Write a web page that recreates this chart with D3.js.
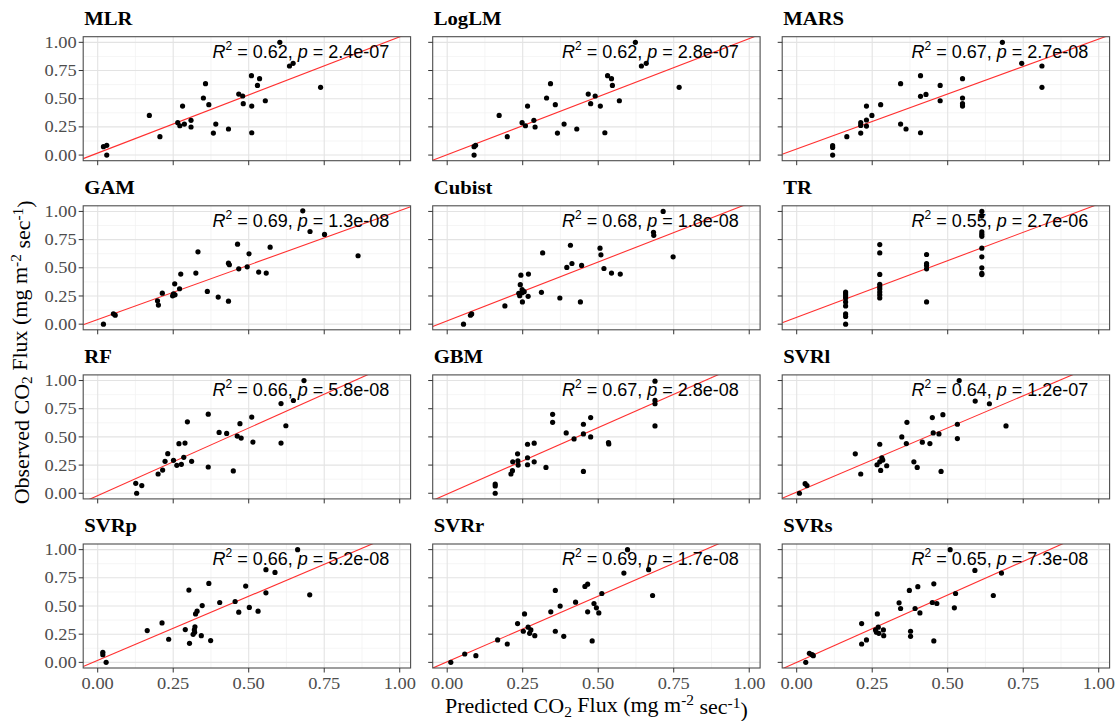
<!DOCTYPE html>
<html><head><meta charset="utf-8">
<script src="https://cdn.jsdelivr.net/npm/d3@7"></script>
<style>body{margin:0;background:#fff}</style>
</head><body><svg id="c" width="1115" height="721"></svg>
<script>
const models = ["MLR","LogLM","MARS","GAM","Cubist","TR","RF","GBM","SVRl","SVRp","SVRr","SVRs"];
const r2Labels = ["0.62","0.62","0.67","0.69","0.68","0.55","0.66","0.67","0.64","0.66","0.69","0.65"];
const pLabels = ["2.4e-07","2.8e-07","2.7e-08","1.3e-08","1.8e-08","2.7e-06","5.8e-08","2.8e-08","1.2e-07","5.2e-08","1.7e-08","7.3e-08"];
const lineIntercepts = [0.018,0.003,0.054,0.041,0.030,0.061,-0.021,-0.007,0.010,0.018,0.005,0.000];
const lineSlopes = [1.031,1.030,0.975,0.966,1.043,1.005,1.200,1.180,1.140,1.136,1.165,1.195];
const tickValues = [0,0.25,0.5,0.75,1];
const tickLabels = ["0.00","0.25","0.50","0.75","1.00"];
const minorValues = [0.125,0.375,0.625,0.875];
const xTitle = "Predicted CO₂ Flux (mg m⁻² sec⁻¹)";
const yTitle = "Observed CO₂ Flux (mg m⁻² sec⁻¹)";

const MLR = [[0.019,0.074],[0.030,0.086],[0.030,0.0],[0.171,0.352],[0.206,0.163],[0.265,0.287],[0.272,0.260],[0.281,0.435],[0.287,0.275],[0.309,0.308],[0.309,0.249],[0.350,0.506],[0.357,0.633],[0.368,0.447],[0.383,0.195],[0.391,0.275],[0.433,0.231],[0.467,0.541],[0.480,0.524],[0.482,0.456],[0.509,0.704],[0.510,0.435],[0.510,0.198],[0.529,0.618],[0.536,0.678],[0.555,0.482],[0.603,1.0],[0.635,0.790],[0.647,0.814],[0.738,0.601]];
const LogLM = [[0.089,0.074],[0.094,0.086],[0.089,0.0],[0.172,0.352],[0.199,0.163],[0.248,0.287],[0.259,0.260],[0.266,0.435],[0.287,0.308],[0.291,0.249],[0.329,0.506],[0.342,0.633],[0.358,0.447],[0.365,0.195],[0.387,0.275],[0.429,0.231],[0.467,0.541],[0.475,0.456],[0.490,0.524],[0.507,0.435],[0.522,0.198],[0.531,0.704],[0.544,0.678],[0.547,0.618],[0.570,0.482],[0.623,1.0],[0.643,0.790],[0.659,0.814],[0.768,0.601]];
const MARS = [[0.119,0.083],[0.119,0.068],[0.119,0.0],[0.166,0.163],[0.212,0.287],[0.212,0.263],[0.212,0.195],[0.231,0.435],[0.231,0.311],[0.231,0.257],[0.249,0.352],[0.278,0.447],[0.344,0.633],[0.344,0.275],[0.362,0.231],[0.410,0.704],[0.410,0.521],[0.410,0.198],[0.428,0.538],[0.475,0.618],[0.475,0.482],[0.549,0.678],[0.549,0.506],[0.549,0.456],[0.549,0.435],[0.681,1.0],[0.745,0.814],[0.812,0.790],[0.812,0.601]];
const GAM = [[0.019,0.0],[0.052,0.092],[0.058,0.080],[0.198,0.207],[0.201,0.169],[0.214,0.275],[0.248,0.251],[0.251,0.269],[0.255,0.358],[0.256,0.260],[0.271,0.314],[0.275,0.444],[0.325,0.453],[0.332,0.642],[0.363,0.290],[0.399,0.240],[0.433,0.541],[0.436,0.527],[0.433,0.204],[0.463,0.710],[0.467,0.491],[0.495,0.509],[0.501,0.624],[0.533,0.462],[0.558,0.453],[0.571,0.683],[0.679,1.005],[0.703,0.822],[0.751,0.796],[0.862,0.607]];
const Cubist = [[0.054,0.0],[0.077,0.079],[0.081,0.091],[0.191,0.162],[0.237,0.274],[0.240,0.253],[0.242,0.350],[0.244,0.435],[0.248,0.306],[0.248,0.279],[0.249,0.197],[0.255,0.288],[0.268,0.247],[0.269,0.444],[0.312,0.282],[0.316,0.632],[0.373,0.232],[0.396,0.503],[0.408,0.700],[0.413,0.538],[0.441,0.197],[0.445,0.521],[0.506,0.674],[0.509,0.615],[0.519,0.494],[0.544,0.453],[0.573,0.444],[0.683,0.815],[0.684,0.788],[0.715,1.0],[0.748,0.597]];
const TR = [[0.162,0.285],[0.162,0.268],[0.162,0.250],[0.162,0.232],[0.162,0.197],[0.162,0.162],[0.162,0.091],[0.162,0.068],[0.162,0.0],[0.275,0.706],[0.275,0.632],[0.275,0.441],[0.275,0.353],[0.275,0.332],[0.275,0.312],[0.275,0.285],[0.275,0.259],[0.275,0.232],[0.430,0.618],[0.430,0.538],[0.430,0.521],[0.430,0.491],[0.430,0.197],[0.613,1.0],[0.613,0.959],[0.613,0.818],[0.613,0.797],[0.613,0.779],[0.613,0.674],[0.613,0.597],[0.613,0.500],[0.613,0.450],[0.613,0.440]];
const RF = [[0.126,0.088],[0.129,0.0],[0.146,0.068],[0.200,0.171],[0.215,0.206],[0.223,0.283],[0.232,0.351],[0.251,0.292],[0.262,0.248],[0.269,0.440],[0.277,0.257],[0.285,0.319],[0.289,0.445],[0.297,0.634],[0.311,0.283],[0.366,0.702],[0.366,0.233],[0.402,0.540],[0.427,0.531],[0.449,0.198],[0.462,0.507],[0.471,0.617],[0.475,0.490],[0.510,0.676],[0.514,0.454],[0.607,0.796],[0.607,0.445],[0.623,0.599],[0.648,0.823],[0.683,1.0]];
const GBM = [[0.159,0.082],[0.159,0.065],[0.159,0.0],[0.211,0.171],[0.216,0.200],[0.217,0.279],[0.233,0.350],[0.234,0.288],[0.235,0.250],[0.266,0.435],[0.266,0.315],[0.266,0.253],[0.288,0.444],[0.288,0.279],[0.327,0.229],[0.349,0.700],[0.349,0.629],[0.394,0.535],[0.420,0.482],[0.451,0.612],[0.451,0.526],[0.451,0.194],[0.475,0.671],[0.475,0.500],[0.534,0.450],[0.535,0.438],[0.688,0.994],[0.688,0.824],[0.688,0.794],[0.688,0.597]];
const SVRl = [[0.009,0.0],[0.028,0.085],[0.034,0.068],[0.194,0.350],[0.212,0.171],[0.266,0.253],[0.275,0.435],[0.275,0.279],[0.278,0.203],[0.282,0.315],[0.285,0.294],[0.298,0.244],[0.348,0.500],[0.363,0.441],[0.365,0.629],[0.388,0.279],[0.399,0.229],[0.416,0.453],[0.441,0.441],[0.449,0.671],[0.452,0.535],[0.471,0.526],[0.478,0.194],[0.484,0.697],[0.532,0.612],[0.532,0.485],[0.538,1.0],[0.591,0.818],[0.638,0.794],[0.693,0.597]];
const SVRp = [[0.017,0.089],[0.017,0.068],[0.028,0.0],[0.164,0.282],[0.213,0.350],[0.235,0.205],[0.290,0.291],[0.302,0.641],[0.304,0.169],[0.316,0.249],[0.320,0.288],[0.321,0.267],[0.322,0.315],[0.324,0.430],[0.329,0.454],[0.343,0.237],[0.346,0.504],[0.368,0.700],[0.374,0.193],[0.404,0.531],[0.455,0.540],[0.467,0.445],[0.490,0.677],[0.502,0.487],[0.531,0.454],[0.557,0.822],[0.557,0.617],[0.587,0.798],[0.662,1.0],[0.702,0.599]];
const SVRr = [[0.012,0.0],[0.058,0.074],[0.095,0.059],[0.167,0.199],[0.199,0.163],[0.233,0.344],[0.252,0.276],[0.256,0.430],[0.268,0.312],[0.273,0.258],[0.277,0.288],[0.290,0.237],[0.343,0.448],[0.358,0.638],[0.358,0.276],[0.374,0.499],[0.386,0.231],[0.425,0.534],[0.456,0.674],[0.465,0.694],[0.465,0.448],[0.480,0.190],[0.486,0.522],[0.494,0.484],[0.502,0.439],[0.512,0.611],[0.585,0.792],[0.597,1.0],[0.667,0.822],[0.680,0.593]];
const SVRs = [[0.030,0.0],[0.042,0.080],[0.051,0.068],[0.055,0.059],[0.215,0.344],[0.215,0.163],[0.231,0.199],[0.261,0.288],[0.264,0.267],[0.267,0.430],[0.270,0.312],[0.272,0.258],[0.287,0.288],[0.288,0.237],[0.339,0.528],[0.344,0.478],[0.373,0.638],[0.377,0.276],[0.377,0.231],[0.392,0.478],[0.401,0.671],[0.408,0.439],[0.449,0.531],[0.454,0.697],[0.454,0.190],[0.464,0.522],[0.508,1.0],[0.522,0.484],[0.526,0.611],[0.590,0.816],[0.651,0.593],[0.678,0.792]];
const panelData = [MLR, LogLM, MARS, GAM, Cubist, TR, RF, GBM, SVRl, SVRp, SVRr, SVRs];

// layout
const W = 1115, H = 721;
const panelLeft0 = 83.2, colStride = 349.5, panelW = 327.4;
const panelTop0 = 36.7, rowStride = 169.1, panelH = 124;
const xDomain = [-0.048, 1.036], yDomain = [-0.05, 1.05];
const serif = "'Liberation Serif','Times New Roman',serif";
const sans = "'Liberation Sans',Arial,sans-serif";
const SX = 1.15;

const svg = d3.select("#c");
svg.append("rect").attr("width", W).attr("height", H).attr("fill", "#fff");

function stext(g, x, y, str, opts) {
  const t = g.append("text")
    .attr("transform", `translate(${x},${y})` + (opts.rotate ? ` rotate(${opts.rotate})` : "") + ` scale(${opts.sx || 1},1)`)
    .attr("font-family", opts.family || serif)
    .attr("font-size", opts.size)
    .attr("font-weight", opts.weight || "normal")
    .attr("fill", opts.fill || "#000")
    .attr("text-anchor", opts.anchor || "start");
  if (opts.dy) t.attr("dy", opts.dy);
  return t;
}

function addFluxTitle(t, base) {
  // "Predicted CO₂ Flux (mg m⁻² sec⁻¹)" with real sub/superscripts
  t.append("tspan").text(base + " CO");
  t.append("tspan").attr("font-size", "0.7em").attr("dy", "0.25em").text("2");
  t.append("tspan").attr("dy", "-0.25em").text(" Flux (mg m");
  t.append("tspan").attr("font-size", "0.7em").attr("dy", "-0.45em").text("-2");
  t.append("tspan").attr("dy", "0.45em").text(" sec");
  t.append("tspan").attr("font-size", "0.7em").attr("dy", "-0.45em").text("-1");
  t.append("tspan").attr("dy", "0.45em").text(")");
}

models.forEach((name, i) => {
  const col = i % 3, row = Math.floor(i / 3);
  const left = panelLeft0 + col * colStride;
  const top = panelTop0 + row * rowStride;
  const x = d3.scaleLinear().domain(xDomain).range([left, left + panelW]);
  const y = d3.scaleLinear().domain(yDomain).range([top + panelH, top]);
  const g = svg.append("g");

  const cid = "clip" + i;
  svg.append("clipPath").attr("id", cid).append("rect")
    .attr("x", left).attr("y", top).attr("width", panelW).attr("height", panelH);

  // minor grid
  g.selectAll(".mx").data(minorValues).join("line")
    .attr("x1", d => x(d)).attr("x2", d => x(d)).attr("y1", top).attr("y2", top + panelH)
    .attr("stroke", "#f0f0f0").attr("stroke-width", 0.7);
  g.selectAll(".my").data(minorValues).join("line")
    .attr("y1", d => y(d)).attr("y2", d => y(d)).attr("x1", left).attr("x2", left + panelW)
    .attr("stroke", "#f0f0f0").attr("stroke-width", 0.7);
  // major grid
  g.selectAll(".gx").data(tickValues).join("line")
    .attr("x1", d => x(d)).attr("x2", d => x(d)).attr("y1", top).attr("y2", top + panelH)
    .attr("stroke", "#e3e3e3").attr("stroke-width", 1.1);
  g.selectAll(".gy").data(tickValues).join("line")
    .attr("y1", d => y(d)).attr("y2", d => y(d)).attr("x1", left).attr("x2", left + panelW)
    .attr("stroke", "#e3e3e3").attr("stroke-width", 1.1);

  // regression line
  const a = lineIntercepts[i], b = lineSlopes[i];
  g.append("line").attr("clip-path", `url(#${cid})`)
    .attr("x1", x(xDomain[0])).attr("y1", y(a + b * xDomain[0]))
    .attr("x2", x(xDomain[1])).attr("y2", y(a + b * xDomain[1]))
    .attr("stroke", "#ff3030").attr("stroke-width", 1.1);

  // points
  g.selectAll(".pt").data(panelData[i]).join("circle")
    .attr("cx", d => x(d[0])).attr("cy", d => y(d[1])).attr("r", 2.6).attr("fill", "#000");

  // annotation
  const ann = g.append("text").attr("x", x(0.38)).attr("y", y(0.86))
    .attr("font-family", sans).attr("font-size", 18).attr("fill", "#000");
  ann.append("tspan").attr("font-style", "italic").text("R");
  ann.append("tspan").attr("font-size", 12).attr("dy", -8).text("2");
  ann.append("tspan").attr("dy", 8).text(" = " + r2Labels[i] + ", ");
  ann.append("tspan").attr("font-style", "italic").text("p");
  ann.append("tspan").text(" = " + pLabels[i]);

  // border
  g.append("rect").attr("x", left).attr("y", top).attr("width", panelW).attr("height", panelH)
    .attr("fill", "none").attr("stroke", "#4d4d4d").attr("stroke-width", 1.1);

  // ticks
  g.selectAll(".tx").data(tickValues).join("line")
    .attr("x1", d => x(d)).attr("x2", d => x(d)).attr("y1", top + panelH).attr("y2", top + panelH + 4.5)
    .attr("stroke", "#333").attr("stroke-width", 1);
  g.selectAll(".ty").data(tickValues).join("line")
    .attr("y1", d => y(d)).attr("y2", d => y(d)).attr("x1", left).attr("x2", left - 4.5)
    .attr("stroke", "#333").attr("stroke-width", 1);

  if (col === 0) {
    tickValues.forEach((v, k) => {
      stext(g, left - 6.5, y(v), "", {size: 16, sx: SX, anchor: "end", fill: "#4d4d4d", dy: "0.35em"}).text(tickLabels[k]);
    });
  }
  if (row === 3) {
    tickValues.forEach((v, k) => {
      stext(g, x(v), top + panelH + 21, "", {size: 16, sx: SX, anchor: "middle", fill: "#4d4d4d"}).text(tickLabels[k]);
    });
  }

  // strip title
  stext(g, left + 1, top - 12, "", {size: 18, weight: "bold", sx: SX}).text(name);
});

// axis titles
const plotsLeft = panelLeft0, plotsRight = panelLeft0 + 2 * colStride + panelW;
const plotsTop = panelTop0, plotsBottom = panelTop0 + 3 * rowStride + panelH;
const xt = stext(svg, (plotsLeft + plotsRight) / 2, 713, "", {size: 20, sx: 1.1, anchor: "middle"});
addFluxTitle(xt, "Predicted");
const yt = stext(svg, 28.5, (plotsTop + plotsBottom) / 2, "", {size: 20, sx: 1.1, anchor: "middle", rotate: -90});
addFluxTitle(yt, "Observed");
</script>
</body></html>
